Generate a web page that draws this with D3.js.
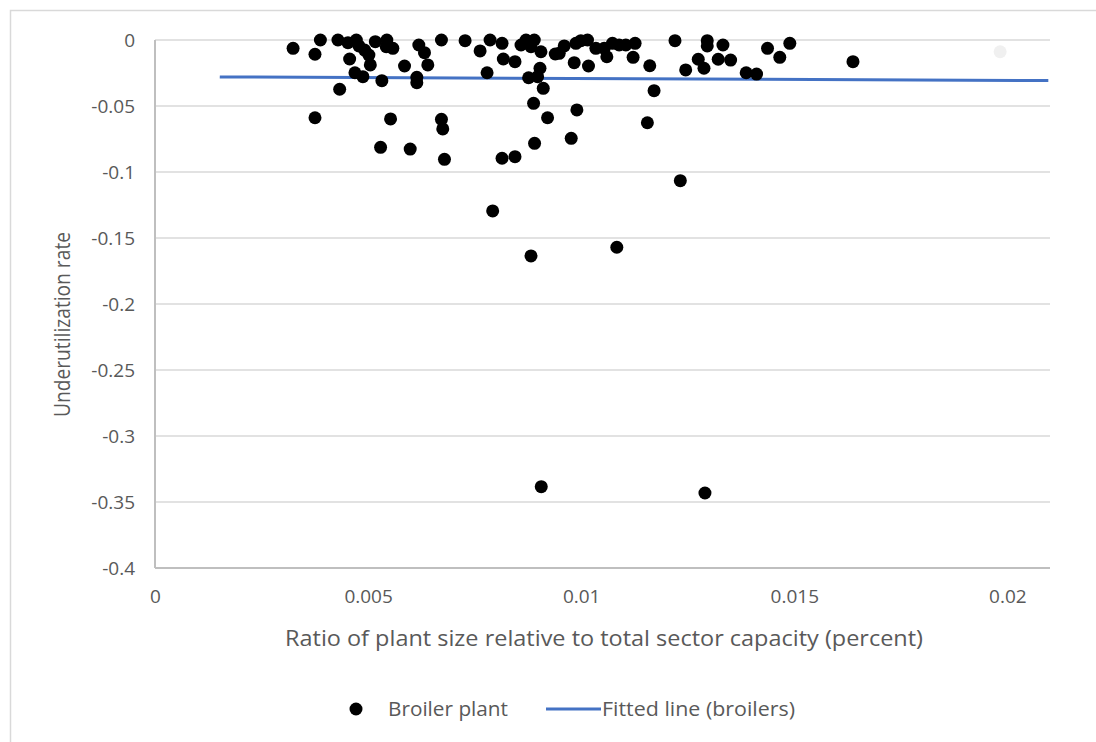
<!DOCTYPE html>
<html>
<head>
<meta charset="utf-8">
<title>Underutilization vs plant size</title>
<script src="https://cdn.jsdelivr.net/npm/d3@7"></script>
<style>
body { margin: 0; background: #fff; font-family: "Open Sans", sans-serif; }
.grid line { stroke: #d9d9d9; stroke-width: 1.5; }
.axis text { fill: #595959; font-size: 19px; font-family: "Open Sans", sans-serif; }
.axis path, .axis line { stroke: #bfbfbf; stroke-width: 2; }
</style>
</head>
<body>
<svg width="1096" height="742"></svg>
<script>
// plant size ratio (x) and underutilization rate (y)
var plantRatio = [
  0.00324, 0.003754, 0.003881, 0.003754, 0.004293, 0.004333, 0.004527, 0.004567, 0.004691, 0.004724,
  0.004785, 0.004878, 0.004918, 0.005019, 0.005052, 0.005169, 0.005293, 0.005323, 0.00544, 0.005426,
  0.005581, 0.005527, 0.005855, 0.005988, 0.006143, 0.006143, 0.00619, 0.006323, 0.006401, 0.006721,
  0.006721, 0.006752, 0.006792, 0.007276, 0.007628, 0.007792, 0.007862, 0.007923, 0.008143, 0.008173,
  0.008143, 0.008447, 0.008447, 0.008588, 0.008705, 0.008766, 0.008822, 0.008822, 0.008883, 0.008899,
  0.008906, 0.008977, 0.009033, 0.009056, 0.009063, 0.00911, 0.009211, 0.009391, 0.009485, 0.009602,
  0.009766, 0.009836, 0.009876, 0.009899, 0.009993, 0.010148, 0.010171, 0.010344, 0.010539, 0.010602,
  0.010733, 0.010836, 0.01089, 0.011047, 0.011218, 0.011265, 0.011553, 0.011609, 0.01171, 0.012201,
  0.012326, 0.012452, 0.012747, 0.012881, 0.012904, 0.012958, 0.012958, 0.013215, 0.013326, 0.013506,
  0.013871, 0.014115, 0.014372, 0.01466, 0.014895, 0.016377
];
var underUtil = [
  -0.0063, -0.0108, 0, -0.0589, 0, -0.0373, -0.002, -0.0144, -0.0248, 0,
  -0.0045, -0.0278, -0.0076, -0.0114, -0.0189, -0.0013, -0.0813, -0.0308, 0, -0.0051,
  -0.0063, -0.0598, -0.0197, -0.0826, -0.0283, -0.0323, -0.0038, -0.0096, -0.0189, 0,
  -0.0601, -0.0674, -0.0904, -0.0005, -0.0083, -0.0248, 0, -0.1295, -0.0025, -0.0144,
  -0.0896, -0.0164, -0.0884, -0.0038, 0, -0.0286, -0.0051, -0.1636, -0.048, 0,
  -0.0783, -0.0278, -0.0214, -0.0089, -0.3384, -0.0366, -0.0589, -0.0106, -0.0101, -0.0045,
  -0.0745, -0.0172, -0.0025, -0.053, -0.0005, 0, -0.0197, -0.0063, -0.0063, -0.0127,
  -0.0025, -0.157, -0.0038, -0.0038, -0.0131, -0.0025, -0.0627, -0.0195, -0.0384, -0.0005,
  -0.1066, -0.0227, -0.0146, -0.0214, -0.3432, -0.0005, -0.0045, -0.0146, -0.0038, -0.0152,
  -0.0248, -0.0258, -0.0063, -0.0131, -0.0025, -0.0164
];
// faint extra marker near the right edge
var faintX = [0.01983];
var faintY = [-0.0089];

// fitted line end points
var fitX = [0.00152, 0.02096];
var fitY = [-0.028, -0.0307];

var xTicks = [0, 0.005, 0.01, 0.015, 0.02];
var yTicks = [0, -0.05, -0.1, -0.15, -0.2, -0.25, -0.3, -0.35, -0.4];

var svg = d3.select("svg");

// chart frame
svg.append("rect")
  .attr("x", 10.5).attr("y", 10.5)
  .attr("width", 1200).attr("height", 900)
  .attr("fill", "none")
  .attr("stroke", "#d9d9d9")
  .attr("stroke-width", 1.5);

var pLeft = 155, pRight = 1050, pTop = 40, pBottom = 568;

var x = d3.scaleLinear().domain([0, 0.021]).range([pLeft, pRight]);
var y = d3.scaleLinear().domain([-0.4, 0]).range([pBottom, pTop]);

// horizontal gridlines
svg.append("g")
  .attr("class", "grid")
  .selectAll("line")
  .data(yTicks.slice(0, -1))
  .enter().append("line")
  .attr("x1", pLeft).attr("x2", pRight)
  .attr("y1", function(d) { return y(d); })
  .attr("y2", function(d) { return y(d); });

// y axis
var yAxis = svg.append("g")
  .attr("class", "axis")
  .attr("transform", "translate(" + pLeft + ",0)")
  .call(d3.axisLeft(y).tickValues(yTicks).tickSize(0).tickPadding(20)
        .tickFormat(function(d) { return d === 0 ? "0" : String(d); }));

// x axis
var xAxis = svg.append("g")
  .attr("class", "axis")
  .attr("transform", "translate(0," + pBottom + ")")
  .call(d3.axisBottom(x).tickValues(xTicks).tickSize(0).tickPadding(22)
        .tickFormat(function(d) { return String(d); }));
xAxis.select(".domain").attr("d", "M" + pLeft + ",0H" + pRight);
yAxis.select(".domain").attr("d", "M0," + pTop + "V" + pBottom);

// fitted line
svg.append("line")
  .attr("x1", x(fitX[0])).attr("y1", y(fitY[0]))
  .attr("x2", x(fitX[1])).attr("y2", y(fitY[1]))
  .attr("stroke", "#4472c4")
  .attr("stroke-width", 3);

// points
var pts = plantRatio.map(function(v, i) { return [v, underUtil[i]]; });
svg.append("g")
  .selectAll("circle")
  .data(pts)
  .enter().append("circle")
  .attr("cx", function(d) { return x(d[0]); })
  .attr("cy", function(d) { return y(d[1]); })
  .attr("r", 6.5)
  .attr("fill", "#000");

svg.selectAll("circle.faint")
  .data(faintX)
  .enter().append("circle")
  .attr("class", "faint")
  .attr("cx", function(d) { return x(d); })
  .attr("cy", function(d, i) { return y(faintY[i]); })
  .attr("r", 6.5)
  .attr("fill", "#f0f0f0");

// axis titles
svg.append("text")
  .attr("x", 285)
  .attr("y", 646)
  .attr("textLength", 638)
  .attr("lengthAdjust", "spacingAndGlyphs")
  .attr("fill", "#595959")
  .style("font-size", "21px")
  .text("Ratio of plant size relative to total sector capacity (percent)");

svg.append("text")
  .attr("transform", "translate(70,417) rotate(-90)")
  .attr("textLength", 185)
  .attr("lengthAdjust", "spacingAndGlyphs")
  .attr("fill", "#595959")
  .style("font-size", "21px")
  .text("Underutilization rate");

// legend
var lg = svg.append("g").attr("transform", "translate(0,709)");
lg.append("circle").attr("cx", 356).attr("cy", 0).attr("r", 6.5).attr("fill", "#000");
lg.append("text").attr("x", 388).attr("y", 7)
  .attr("textLength", 120).attr("lengthAdjust", "spacingAndGlyphs")
  .attr("fill", "#595959").style("font-size", "20px").text("Broiler plant");
lg.append("line").attr("x1", 546).attr("x2", 601).attr("y1", 0).attr("y2", 0)
  .attr("stroke", "#4472c4").attr("stroke-width", 3);
lg.append("text").attr("x", 602).attr("y", 7)
  .attr("textLength", 193).attr("lengthAdjust", "spacingAndGlyphs")
  .attr("fill", "#595959").style("font-size", "20px").text("Fitted line (broilers)");
</script>
</body>
</html>
